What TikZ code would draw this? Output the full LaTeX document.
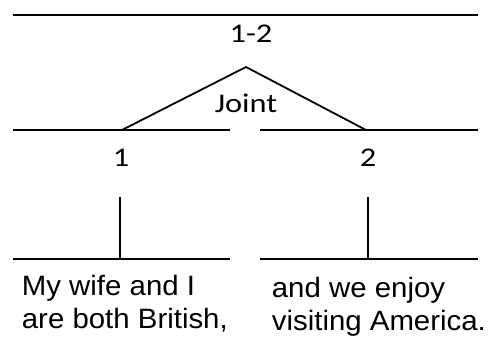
\documentclass[tikz,border=0pt]{standalone}
\usepackage{fontspec}
\newfontfamily\rellabelfont[FakeStretch=1.2]{Carlito}
\newfontfamily\segtextfont[FakeStretch=1.05]{Liberation Sans}
\begin{document}
\begin{tikzpicture}[x=1pt,y=-1pt,line width=1.8pt,
  rel/.style={font=\rellabelfont\fontsize{27}{31}\selectfont,inner sep=0pt,anchor=base},
  seg/.style={font=\segtextfont\fontsize{28}{33}\selectfont,inner sep=0pt,anchor=base west,align=left}]
\useasboundingbox (0,0) rectangle (488,338);

% span lines
\coordinate (top-l) at (13,15);   \coordinate (top-r) at (478,15);
\coordinate (midA-l) at (13,130); \coordinate (midA-r) at (230,130);
\coordinate (midB-l) at (260,130);\coordinate (midB-r) at (478,130);
\coordinate (botA-l) at (13,259); \coordinate (botA-r) at (230,259);
\coordinate (botB-l) at (260,259);\coordinate (botB-r) at (478,259);
\draw (top-l) -- (top-r);
\draw (midA-l) -- (midA-r);
\draw (midB-l) -- (midB-r);
\draw (botA-l) -- (botA-r);
\draw (botB-l) -- (botB-r);

% relation: the joint schema
\node[rel] (span12) at (251,42) {1-2};
\coordinate (apex) at (246,67);
\coordinate (foot1) at (122,130);
\coordinate (foot2) at (366,130);
\draw (foot1) -- (apex) -- (foot2);
\node[rel] (joint) at (246,112) {Joint};

% unit numbers
\node[rel] (unit1) at (121,166) {1};
\node[rel] (unit2) at (368,166) {2};

% stems down to the segments
\coordinate (stem1-t) at (120,197); \coordinate (stem1-b) at (120,259);
\coordinate (stem2-t) at (368,197); \coordinate (stem2-b) at (368,259);
\draw (stem1-t) -- (stem1-b);
\draw (stem2-t) -- (stem2-b);

% segment texts (base anchor sits on the last line)
\node[seg] (seg1) at (21,328) {My wife and I\\are both British,};
\node[seg] (seg2) at (271,330) {and we enjoy\\visiting America.};
\end{tikzpicture}
\end{document}
